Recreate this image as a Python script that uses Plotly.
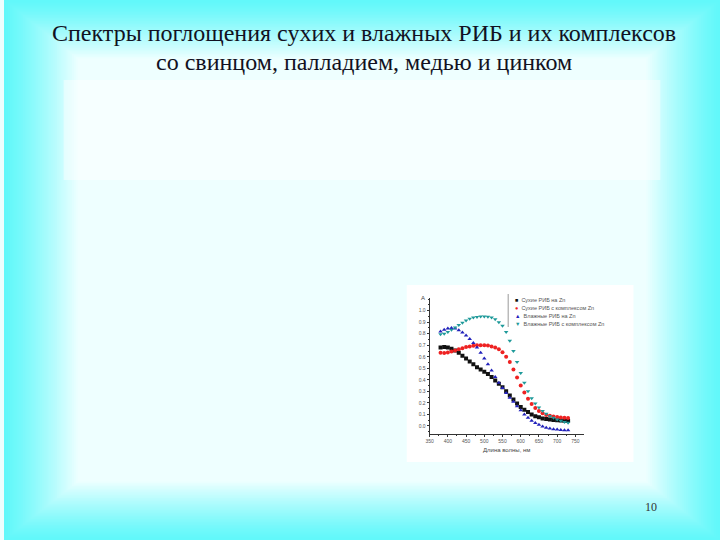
import plotly.graph_objects as go

W, H = 720, 540

wavelength = [380, 390, 400, 410, 420, 430, 440, 450, 460, 470, 480, 490,
              500, 510, 520, 530, 540, 550, 560, 570, 580, 590, 600, 610,
              620, 630, 640, 650, 660, 670, 680, 690, 700, 710, 720, 730]

dry_zn = [0.68, 0.685, 0.68, 0.67, 0.655, 0.635, 0.61, 0.585, 0.56, 0.535, 0.51, 0.49,
          0.47, 0.45, 0.425, 0.395, 0.365, 0.335, 0.30, 0.265, 0.23, 0.195, 0.165, 0.14,
          0.12, 0.10, 0.085, 0.075, 0.065, 0.06, 0.055, 0.052, 0.05, 0.048, 0.046, 0.045]

dry_complex = [0.635, 0.633, 0.637, 0.645, 0.655, 0.665, 0.675, 0.685, 0.69, 0.695, 0.70, 0.70,
               0.70, 0.698, 0.69, 0.68, 0.665, 0.64, 0.60, 0.555, 0.49, 0.42, 0.35, 0.29,
               0.235, 0.19, 0.155, 0.13, 0.11, 0.095, 0.088, 0.082, 0.077, 0.073, 0.07, 0.068]

wet_zn = [0.82, 0.835, 0.845, 0.85, 0.845, 0.83, 0.81, 0.785, 0.755, 0.72, 0.68, 0.635,
          0.585, 0.535, 0.48, 0.425, 0.375, 0.33, 0.285, 0.245, 0.21, 0.17, 0.135, 0.10,
          0.07, 0.045, 0.025, 0.01, -0.005, -0.015, -0.022, -0.028, -0.032, -0.035, -0.037, -0.038]

wet_complex = [0.795, 0.80, 0.815, 0.835, 0.855, 0.875, 0.895, 0.915, 0.93, 0.94, 0.945, 0.95,
               0.95, 0.948, 0.94, 0.925, 0.90, 0.87, 0.815, 0.74, 0.65, 0.555, 0.46, 0.375,
               0.30, 0.24, 0.195, 0.16, 0.13, 0.105, 0.085, 0.07, 0.055, 0.045, 0.035, 0.028]

series_names = ["Сухие РИБ на Zn", "Сухие РИБ с комплексом Zn",
                "Влажные РИБ на Zn", "Влажные РИБ с комплексом Zn"]
series_values = [dry_zn, dry_complex, wet_zn, wet_complex]
series_colors = ["#111111", "#ee2222", "#2222bb", "#1f9a9a"]
series_symbols = ["square", "circle", "triangle-up", "triangle-down"]
legend_glyphs = ["■", "●", "▲", "▼"]

x_ticks = [350, 400, 450, 500, 550, 600, 650, 700, 750]
y_ticks = [0.0, 0.1, 0.2, 0.3, 0.4, 0.5, 0.6, 0.7, 0.8, 0.9, 1.0]
y_ticktext = ["0.0", "0.1", "0.2", "0.3", "0.4", "0.5", "0.6", "0.7", "0.8", "0.9", "1.0"]

title_lines = ["Спектры поглощения сухих и влажных РИБ и их комплексов",
               "со свинцом, палладием, медью и цинком"]
x_title = "Длина волны, нм"
y_title = "A"
page_no = "10"


def px(x):
    return x / W


def py(y):
    return 1 - y / H


fig = go.Figure()
for name, vals, col, sym in zip(series_names, series_values, series_colors, series_symbols):
    fig.add_trace(go.Scatter(
        x=wavelength, y=vals, mode="markers", name=name, showlegend=False,
        marker=dict(symbol=sym, size=4, color=col, line=dict(width=0)),
    ))

shapes = []
# rectangular gradient background (cyan edges -> pale centre)
outer = (98, 248, 250)
inner = (238, 255, 255)
N = 40
dx, dy = 1.9, 1.5
for i in range(N):
    t = (i / (N - 1)) ** 1.25
    c = tuple(round(o + (n - o) * t) for o, n in zip(outer, inner))
    shapes.append(dict(type="rect", xref="paper", yref="paper", layer="below",
                       x0=px(i * dx), x1=px(W - i * dx), y0=py(i * dy), y1=py(H - i * dy),
                       fillcolor="rgb(%d,%d,%d)" % c, line=dict(width=0)))
# lighter text box
shapes.append(dict(type="rect", xref="paper", yref="paper", layer="below",
                   x0=px(60), x1=px(660), y0=py(80), y1=py(180),
                   fillcolor="rgba(255,255,255,0.45)", line=dict(width=0)))
# white chart picture
shapes.append(dict(type="rect", xref="paper", yref="paper", layer="below",
                   x0=px(405), x1=px(633), y0=py(285), y1=py(462),
                   fillcolor="#ffffff", line=dict(width=0)))
# legend frame line
shapes.append(dict(type="line", xref="paper", yref="paper", layer="below",
                   x0=px(507), x1=px(507), y0=py(294), y1=py(327),
                   line=dict(color="#999999", width=1)))

annotations = [
    dict(text=title_lines[0], x=px(362), y=py(33), xref="paper", yref="paper",
         showarrow=False, xanchor="center", yanchor="middle",
         font=dict(family="Liberation Serif", size=24, color="#111122")),
    dict(text=title_lines[1], x=px(362), y=py(62), xref="paper", yref="paper",
         showarrow=False, xanchor="center", yanchor="middle",
         font=dict(family="Liberation Serif", size=24, color="#111122")),
    dict(text=page_no, x=px(651), y=py(507), xref="paper", yref="paper",
         showarrow=False, xanchor="center", yanchor="middle",
         font=dict(family="Liberation Serif", size=12, color="#333333")),
    dict(text=x_title, x=px(505), y=py(450), xref="paper", yref="paper",
         showarrow=False, xanchor="center", yanchor="middle",
         font=dict(family="Liberation Sans", size=6, color="#444444")),
    dict(text=y_title, x=px(421), y=py(298), xref="paper", yref="paper",
         showarrow=False, xanchor="center", yanchor="middle",
         font=dict(family="Liberation Sans", size=6, color="#444444")),
]
for k, (name, col, g) in enumerate(zip(series_names, series_colors, legend_glyphs)):
    annotations.append(dict(
        text="<span style='color:%s'>%s</span>  %s" % (col, g, name),
        x=px(512), y=py(300 + k * 8), xref="paper", yref="paper",
        showarrow=False, xanchor="left", yanchor="middle",
        font=dict(family="Liberation Sans", size=5.5, color="#555555")))

fig.update_layout(
    width=W, height=H,
    margin=dict(l=0, r=0, t=0, b=0),
    paper_bgcolor="#eefefe",
    plot_bgcolor="rgba(0,0,0,0)",
    shapes=shapes,
    annotations=annotations,
    showlegend=False,
    xaxis=dict(domain=[px(428), px(583)], range=[350, 773],
               tickvals=x_ticks, ticks="outside", ticklen=2, tickwidth=1,
               tickcolor="#333333", showline=True, linecolor="#333333", linewidth=1,
               showgrid=False, zeroline=False,
               tickfont=dict(family="Liberation Sans", size=5, color="#555555"),
               minor=dict(dtick=25, ticks="outside", ticklen=1, tickcolor="#333333")),
    yaxis=dict(domain=[py(434), py(298)], range=[-0.07, 1.11],
               tickvals=y_ticks, ticktext=y_ticktext, ticks="outside", ticklen=2,
               tickwidth=1, tickcolor="#333333", showline=True, linecolor="#333333",
               linewidth=1, showgrid=False, zeroline=False,
               tickfont=dict(family="Liberation Sans", size=5, color="#555555"),
               minor=dict(dtick=0.05, ticks="outside", ticklen=1, tickcolor="#333333")),
)

fig.write_html("out.html", config={"displayModeBar": False},
               post_script="document.body.style.margin='0';document.body.style.padding='0';")
